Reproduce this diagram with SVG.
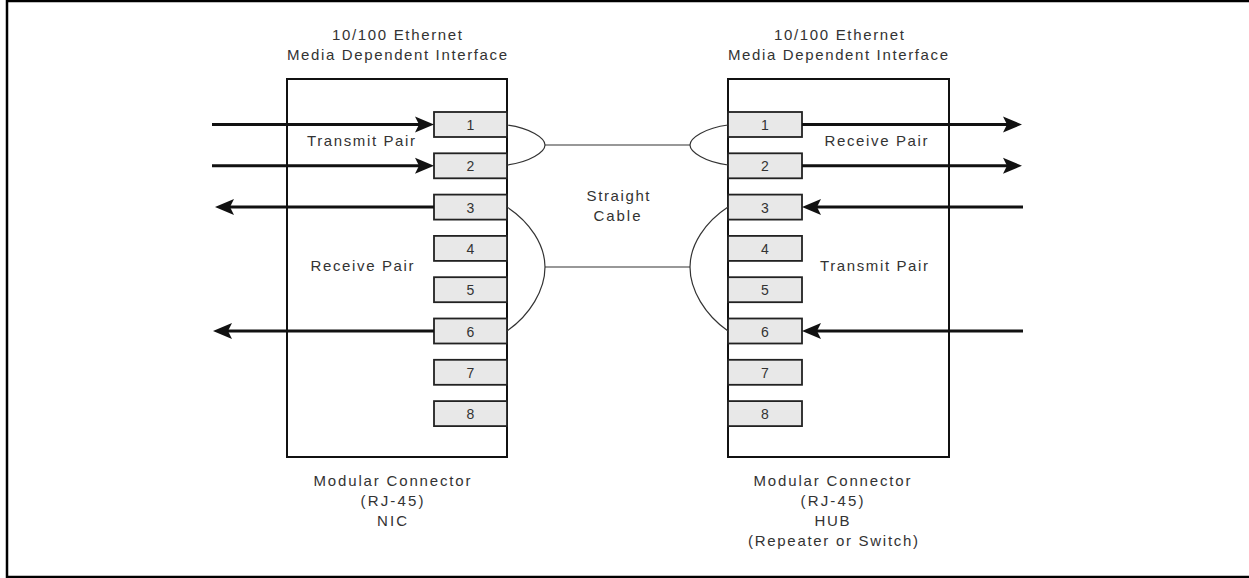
<svg xmlns="http://www.w3.org/2000/svg" width="1249" height="578" viewBox="0 0 1249 578">
<defs>
<style>
.t{font-family:"Liberation Sans",Arial,sans-serif;font-size:15px;fill:#333;text-anchor:middle}
.d{font-family:"Liberation Sans",Arial,sans-serif;font-size:14px;fill:#333;text-anchor:middle}
.box{fill:#fff;stroke:#111;stroke-width:2}
.pin{fill:#e8e8e8;stroke:#222;stroke-width:1.8}
.w{fill:none;stroke:#111;stroke-width:3}
.c{fill:none;stroke:#333;stroke-width:1.2}
</style>
<marker id="ah" viewBox="-20 -9 21 18" refX="-10" refY="0" markerWidth="21" markerHeight="18" markerUnits="userSpaceOnUse" orient="auto" overflow="visible">
<path d="M-19,-8 L0,0 L-19,8 L-15,0 Z" fill="#111"/>
</marker>
</defs>
<rect x="7" y="1" width="1260" height="576" fill="#fff" stroke="#000" stroke-width="2.5"/>

<g id="nic">
<rect class="box" x="287" y="79" width="220" height="378"/>
<rect class="pin" x="434" y="112" width="73" height="25"/>
<rect class="pin" x="434" y="153.3" width="73" height="25"/>
<rect class="pin" x="434" y="194.6" width="73" height="25"/>
<rect class="pin" x="434" y="235.9" width="73" height="25"/>
<rect class="pin" x="434" y="277.2" width="73" height="25"/>
<rect class="pin" x="434" y="318.5" width="73" height="25"/>
<rect class="pin" x="434" y="359.8" width="73" height="25"/>
<rect class="pin" x="434" y="401.1" width="73" height="25"/>
<text class="d" x="470.5" y="130">1</text>
<text class="d" x="470.5" y="171.3">2</text>
<text class="d" x="470.5" y="212.6">3</text>
<text class="d" x="470.5" y="253.9">4</text>
<text class="d" x="470.5" y="295.2">5</text>
<text class="d" x="470.5" y="336.5">6</text>
<text class="d" x="470.5" y="377.8">7</text>
<text class="d" x="470.5" y="419.1">8</text>
<text class="t" x="397" y="40" textLength="130" lengthAdjust="spacing">10/100 Ethernet</text>
<text class="t" x="397" y="60" textLength="220" lengthAdjust="spacing">Media Dependent Interface</text>
<text class="t" x="361" y="146" textLength="108" lengthAdjust="spacing">Transmit Pair</text>
<text class="t" x="362" y="271" textLength="103" lengthAdjust="spacing">Receive Pair</text>
<text class="t" x="392" y="486" textLength="157" lengthAdjust="spacing">Modular Connector</text>
<text class="t" x="392" y="506" textLength="63" lengthAdjust="spacing">(RJ-45)</text>
<text class="t" x="392" y="526" textLength="30" lengthAdjust="spacing">NIC</text>
</g>

<g id="hub">
<rect class="box" x="728" y="79" width="221" height="378"/>
<rect class="pin" x="728" y="112" width="74" height="25"/>
<rect class="pin" x="728" y="153.3" width="74" height="25"/>
<rect class="pin" x="728" y="194.6" width="74" height="25"/>
<rect class="pin" x="728" y="235.9" width="74" height="25"/>
<rect class="pin" x="728" y="277.2" width="74" height="25"/>
<rect class="pin" x="728" y="318.5" width="74" height="25"/>
<rect class="pin" x="728" y="359.8" width="74" height="25"/>
<rect class="pin" x="728" y="401.1" width="74" height="25"/>
<text class="d" x="765" y="130">1</text>
<text class="d" x="765" y="171.3">2</text>
<text class="d" x="765" y="212.6">3</text>
<text class="d" x="765" y="253.9">4</text>
<text class="d" x="765" y="295.2">5</text>
<text class="d" x="765" y="336.5">6</text>
<text class="d" x="765" y="377.8">7</text>
<text class="d" x="765" y="419.1">8</text>
<text class="t" x="839" y="40" textLength="130" lengthAdjust="spacing">10/100 Ethernet</text>
<text class="t" x="838" y="60" textLength="220" lengthAdjust="spacing">Media Dependent Interface</text>
<text class="t" x="876" y="146" textLength="103" lengthAdjust="spacing">Receive Pair</text>
<text class="t" x="874" y="271" textLength="108" lengthAdjust="spacing">Transmit Pair</text>
<text class="t" x="832" y="486" textLength="157" lengthAdjust="spacing">Modular Connector</text>
<text class="t" x="832" y="506" textLength="63" lengthAdjust="spacing">(RJ-45)</text>
<text class="t" x="832" y="526" textLength="35" lengthAdjust="spacing">HUB</text>
<text class="t" x="833" y="546" textLength="170" lengthAdjust="spacing">(Repeater or Switch)</text>
</g>

<g id="cable">
<text class="t" x="618" y="201" textLength="63" lengthAdjust="spacing">Straight</text>
<text class="t" x="617" y="221" textLength="47" lengthAdjust="spacing">Cable</text>
</g>

<g id="connectors">
<path class="w" d="M212,124.5 H424" marker-end="url(#ah)"/>
<path class="w" d="M212,165.8 H424" marker-end="url(#ah)"/>
<path class="w" d="M434,207.1 H225" marker-end="url(#ah)"/>
<path class="w" d="M434,331 H223" marker-end="url(#ah)"/>
<path class="w" d="M802,124.5 H1012" marker-end="url(#ah)"/>
<path class="w" d="M802,165.8 H1012" marker-end="url(#ah)"/>
<path class="w" d="M1023,207.1 H812" marker-end="url(#ah)"/>
<path class="w" d="M1023,331 H812" marker-end="url(#ah)"/>
<path class="c" d="M507,125 C530,128 545,138 545,145 C545,152 530,162 507,165"/>
<path class="c" d="M507,207 C530,222 545,245 545,267 C545,290 530,315 507,331"/>
<path class="c" d="M728,125 C705,128 690,138 690,145 C690,152 705,162 728,165"/>
<path class="c" d="M728,207 C705,222 690,245 690,267 C690,290 705,315 728,331"/>
<path class="c" d="M545,145 H690"/>
<path class="c" d="M545,267 H690"/>
</g>
</svg>
